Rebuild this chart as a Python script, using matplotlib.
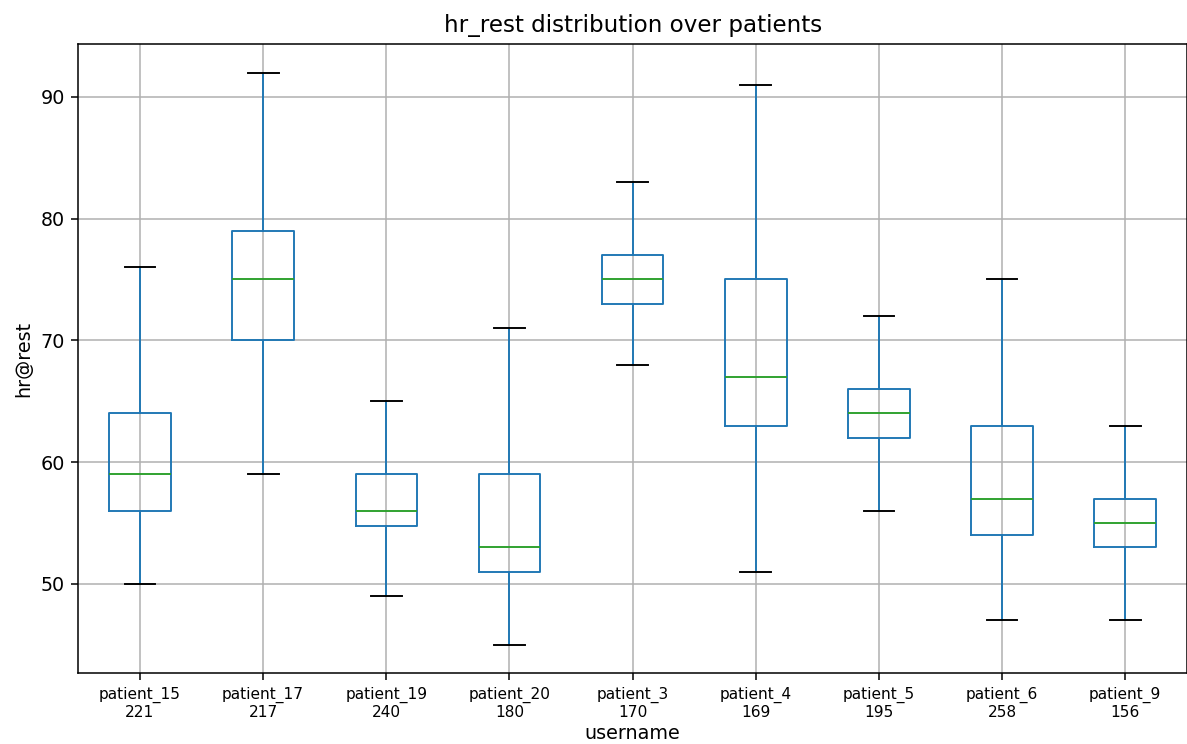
import matplotlib
matplotlib.use("Agg")
import matplotlib.pyplot as plt

# per-patient resting heart rate summary (whisker low, Q1, median, Q3, whisker high)
usernames = ["patient_15", "patient_17", "patient_19", "patient_20", "patient_3",
             "patient_4", "patient_5", "patient_6", "patient_9"]
counts = [221, 217, 240, 180, 170, 169, 195, 258, 156]
whislo = [50, 59, 49, 45, 68, 51, 56, 47, 47]
q1 = [56, 70, 54.75, 51, 73, 63, 62, 54, 53]
med = [59, 75, 56, 53, 75, 67, 64, 57, 55]
q3 = [64, 79, 59, 59, 77, 75, 66, 63, 57]
whishi = [76, 92, 65, 71, 83, 91, 72, 75, 63]

stats = []
for i, name in enumerate(usernames):
    stats.append({
        "label": f"{name}\n{counts[i]}",
        "whislo": whislo[i], "q1": q1[i], "med": med[i],
        "q3": q3[i], "whishi": whishi[i], "fliers": [],
    })

DPI = 138
fig, ax = plt.subplots(figsize=(1188 / DPI, 744 / DPI), dpi=DPI)
fig.subplots_adjust(left=0.066, right=0.999, top=0.941, bottom=0.095)

ax.bxp(stats, showfliers=False,
       boxprops=dict(color="C0"),
       whiskerprops=dict(color="C0"),
       medianprops=dict(color="C2"),
       capprops=dict(color="black"))

ax.grid(True)
ax.tick_params(axis="x", labelsize=8)
ax.set_title("hr_rest distribution over patients")
ax.set_xlabel("username", labelpad=2)
ax.set_ylabel("hr@rest")

fig.savefig("out.png", dpi=DPI)
